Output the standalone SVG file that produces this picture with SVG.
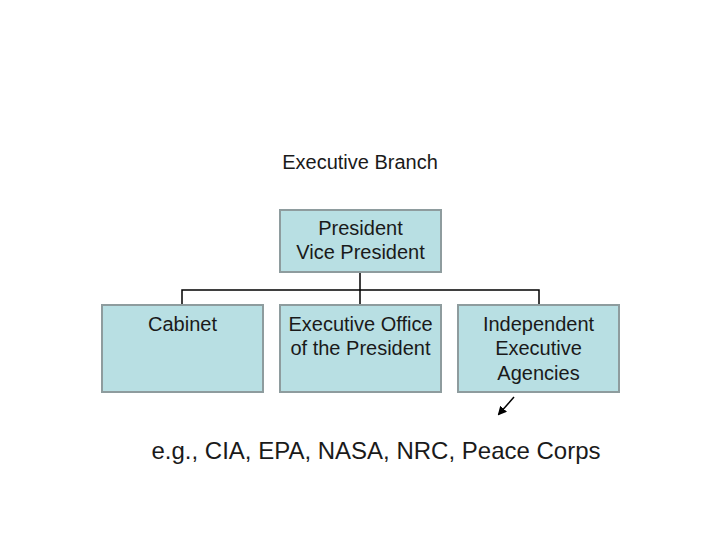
<svg xmlns="http://www.w3.org/2000/svg" width="720" height="540" viewBox="0 0 720 540">
<style>
.box{fill:#b8dfe3;stroke:#8e9c9e;stroke-width:2}
.t{font-family:"Liberation Sans",Arial,sans-serif;font-size:20px;fill:#1a1a1a;text-anchor:middle}
.c{fill:none;stroke:#000;stroke-width:1.5}
</style>
<defs>
<marker id="ah" markerWidth="9" markerHeight="9" refX="7" refY="4.5" orient="auto" markerUnits="userSpaceOnUse">
<path d="M0,0 L9,4.5 L0,9 z" fill="#000"/>
</marker>
</defs>
<rect width="720" height="540" fill="#fff"/>
<text class="t" x="360" y="169">Executive Branch</text>
<g id="connectors">
<path class="c" d="M360,272 V290 M182,305 V290 H539 V305 M360,290 V305"/>
<path class="c" d="M514,397 L499,414" stroke-width="2.2" marker-end="url(#ah)"/>
</g>
<g id="president">
<rect class="box" x="280" y="210" width="161" height="62"/>
<text class="t" x="360.500" y="235">President</text>
<text class="t" x="360.500" y="259">Vice President</text>
</g>
<g id="cabinet">
<rect class="box" x="102" y="305" width="161" height="87"/>
<text class="t" x="182.500" y="331">Cabinet</text>
</g>
<g id="eop">
<rect class="box" x="280" y="305" width="161" height="87"/>
<text class="t" x="360.500" y="331">Executive Office</text>
<text class="t" x="360.500" y="355">of the President</text>
</g>
<g id="agencies">
<rect class="box" x="458" y="305" width="161" height="87"/>
<text class="t" x="538.500" y="331">Independent</text>
<text class="t" x="538.500" y="355">Executive</text>
<text class="t" x="538.500" y="380">Agencies</text>
</g>
<text class="t" x="376" y="459" style="font-size:24px">e.g., CIA, EPA, NASA, NRC, Peace Corps</text>
</svg>
